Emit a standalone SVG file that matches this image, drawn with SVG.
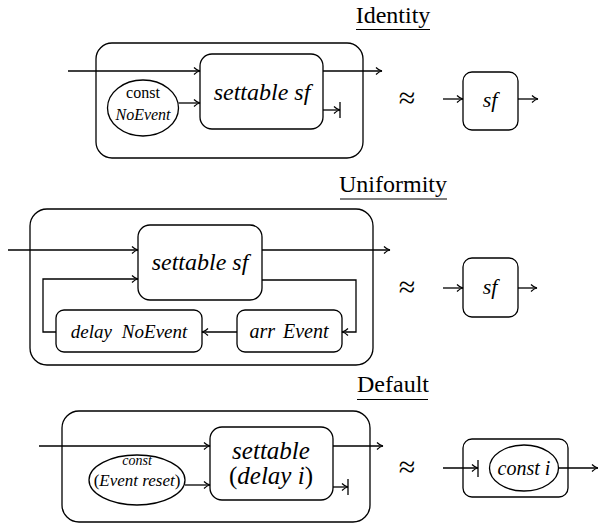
<svg xmlns="http://www.w3.org/2000/svg" width="598" height="527" viewBox="0 0 598 527">
<defs>
<marker id="arr" markerWidth="10" markerHeight="10" refX="8" refY="5" orient="auto" markerUnits="userSpaceOnUse">
<path d="M2,1.5 Q5,4.5 8,5 Q5,5.5 2,8.5" fill="none" stroke="#000" stroke-width="1.2"/>
</marker>
</defs>
<rect width="598" height="527" fill="#fff"/>

<g id="title-identity">
<text x="393" y="23" font-size="24" font-family="Liberation Serif" text-anchor="middle">Identity</text>
<line x1="356" y1="29.5" x2="430" y2="29.5" stroke="#000" stroke-width="1.2"/>
</g>
<g id="id-outer"><rect x="96" y="43" width="267" height="115" rx="16" fill="none" stroke="#000" stroke-width="1.3"/></g>
<g id="id-settable"><rect x="200" y="54" width="123" height="75" rx="12" fill="none" stroke="#000" stroke-width="1.3"/>
<text x="262" y="100" font-size="24" font-family="Liberation Serif" font-style="italic" text-anchor="middle">settable sf</text></g>
<g id="id-const"><ellipse cx="143" cy="108" rx="35.5" ry="28" fill="none" stroke="#000" stroke-width="1.3"/>
<text x="143" y="98" font-size="16" font-family="Liberation Serif" text-anchor="middle">const</text>
<text x="143" y="120" font-size="16" font-family="Liberation Serif" font-style="italic" text-anchor="middle">NoEvent</text></g>
<g id="id-approx"><text x="407" y="108" font-size="30" font-family="Liberation Serif" text-anchor="middle">≈</text></g>
<g id="id-sf"><rect x="463" y="72" width="55" height="58" rx="9" fill="none" stroke="#000" stroke-width="1.3"/>
<text x="490" y="107" font-size="22" font-family="Liberation Serif" font-style="italic" text-anchor="middle">sf</text></g>

<g id="title-uniformity">
<text x="393" y="192" font-size="24" font-family="Liberation Serif" text-anchor="middle">Uniformity</text>
<line x1="340" y1="199" x2="447" y2="199" stroke="#000" stroke-width="1.2"/>
</g>
<g id="un-outer"><rect x="30" y="209" width="343" height="156" rx="17" fill="none" stroke="#000" stroke-width="1.3"/></g>
<g id="un-settable"><rect x="138" y="225" width="124" height="75" rx="12" fill="none" stroke="#000" stroke-width="1.3"/>
<text x="200" y="270" font-size="24" font-family="Liberation Serif" font-style="italic" text-anchor="middle">settable sf</text></g>
<g id="un-delay"><rect x="56" y="310" width="146" height="42" rx="8" fill="none" stroke="#000" stroke-width="1.3"/>
<text x="129" y="338" font-size="19" font-family="Liberation Serif" font-style="italic" text-anchor="middle">delay<tspan dx="10">NoEvent</tspan></text></g>
<g id="un-arr"><rect x="237" y="310" width="105" height="42" rx="8" fill="none" stroke="#000" stroke-width="1.3"/>
<text x="289" y="338" font-size="20" font-family="Liberation Serif" font-style="italic" text-anchor="middle">arr<tspan dx="8">Event</tspan></text></g>
<g id="un-approx"><text x="407" y="297" font-size="30" font-family="Liberation Serif" text-anchor="middle">≈</text></g>
<g id="un-sf"><rect x="463" y="258" width="55" height="59" rx="9" fill="none" stroke="#000" stroke-width="1.3"/>
<text x="490" y="294" font-size="22" font-family="Liberation Serif" font-style="italic" text-anchor="middle">sf</text></g>

<g id="title-default">
<text x="393" y="392" font-size="24" font-family="Liberation Serif" text-anchor="middle">Default</text>
<line x1="357" y1="399.5" x2="428" y2="399.5" stroke="#000" stroke-width="1.2"/>
</g>
<g id="df-outer"><rect x="62" y="411" width="308" height="111" rx="17" fill="none" stroke="#000" stroke-width="1.3"/></g>
<g id="df-settable"><rect x="210" y="427" width="123" height="73" rx="12" fill="none" stroke="#000" stroke-width="1.3"/>
<text x="271" y="459" font-size="25" font-family="Liberation Serif" font-style="italic" text-anchor="middle">settable</text>
<text x="271" y="484" font-size="25" font-family="Liberation Serif" text-anchor="middle">(<tspan font-style="italic">delay i</tspan>)</text></g>
<g id="df-const"><ellipse cx="137" cy="480" rx="48" ry="25" fill="none" stroke="#000" stroke-width="1.3"/>
<text x="137" y="465" font-size="14" font-family="Liberation Serif" font-style="italic" text-anchor="middle">const</text>
<text x="137" y="486" font-size="17" font-family="Liberation Serif" text-anchor="middle">(<tspan font-style="italic">Event reset</tspan>)</text></g>
<g id="df-approx"><text x="407" y="477" font-size="30" font-family="Liberation Serif" text-anchor="middle">≈</text></g>
<g id="df-box"><rect x="463" y="439" width="105" height="58" rx="9" fill="none" stroke="#000" stroke-width="1.3"/></g>
<g id="df-consti"><ellipse cx="524" cy="468" rx="34.5" ry="23" fill="none" stroke="#000" stroke-width="1.3"/>
<text x="524" y="475" font-size="20" font-family="Liberation Serif" font-style="italic" text-anchor="middle">const i</text></g>

<g id="connectors" fill="none" stroke="#000" stroke-width="1.3">
<line x1="68" y1="71" x2="200" y2="71" marker-end="url(#arr)"/>
<line x1="323" y1="71" x2="382" y2="71" marker-end="url(#arr)"/>
<line x1="178.5" y1="103" x2="200" y2="103" marker-end="url(#arr)"/>
<line x1="323" y1="110" x2="340" y2="110" marker-end="url(#arr)"/>
<line x1="340" y1="102" x2="340" y2="118"/>
<line x1="443" y1="99" x2="463" y2="99" marker-end="url(#arr)"/>
<line x1="518" y1="99" x2="538" y2="99" marker-end="url(#arr)"/>
<line x1="8" y1="250" x2="138" y2="250" marker-end="url(#arr)"/>
<line x1="262" y1="250" x2="390" y2="250" marker-end="url(#arr)"/>
<polyline points="262,280 356,280 356,332 342,332" marker-end="url(#arr)"/>
<line x1="237" y1="332" x2="202" y2="332" marker-end="url(#arr)"/>
<polyline points="56,332 43,332 43,279 138,279" marker-end="url(#arr)"/>
<line x1="443" y1="288" x2="463" y2="288" marker-end="url(#arr)"/>
<line x1="518" y1="288" x2="537" y2="288" marker-end="url(#arr)"/>
<line x1="39" y1="446" x2="210" y2="446" marker-end="url(#arr)"/>
<line x1="333" y1="446" x2="383" y2="446" marker-end="url(#arr)"/>
<line x1="185" y1="485" x2="210" y2="485" marker-end="url(#arr)"/>
<line x1="333" y1="487" x2="348" y2="487" marker-end="url(#arr)"/>
<line x1="348" y1="479" x2="348" y2="495"/>
<line x1="443" y1="468" x2="478" y2="468" marker-end="url(#arr)"/>
<line x1="478" y1="460" x2="478" y2="477"/>
<line x1="558.5" y1="468" x2="598" y2="468" marker-end="url(#arr)"/>
</g>
</svg>
